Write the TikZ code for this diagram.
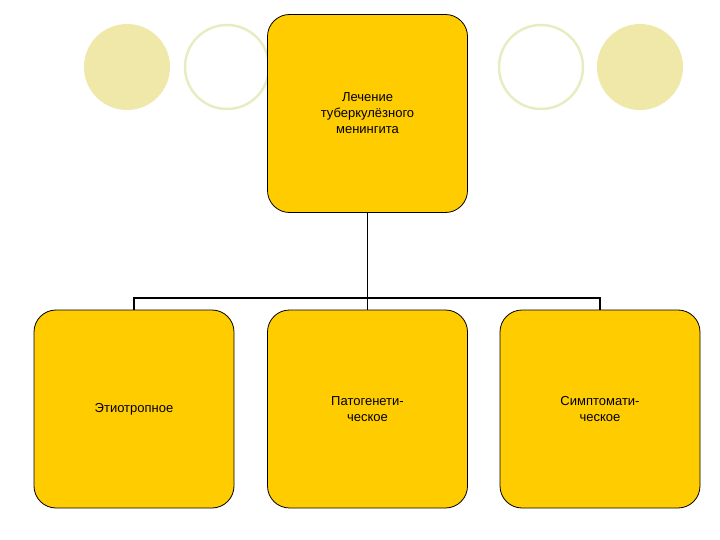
\documentclass[tikz,border=0pt]{standalone}
\usepackage{fontspec}
\setmainfont{Liberation Sans}
\begin{document}
\begin{tikzpicture}[x=1pt,y=-1pt,
  box/.style={draw=black,line width=0.8pt,fill=gyel,rounded corners=22pt,minimum width=200pt,minimum height=198pt,align=center,font=\fontsize{13}{16}\selectfont\bfseries\mdseries},
  link/.style={line width=1.5pt}]
\definecolor{gyel}{HTML}{FFCC00}
\definecolor{cfill}{HTML}{EFE8A8}
\definecolor{cline}{HTML}{E9ECC2}
\useasboundingbox (0,0) rectangle (720,540);
\fill[cfill] (127,67) circle (43);
\draw[cline,line width=2.5pt] (227,67) circle (42);
\draw[cline,line width=2.5pt] (541,67) circle (42);
\fill[cfill] (640,67) circle (43);
\node[box] (top) at (367.5,113.5) {Лечение\\туберкулёзного\\менингита};
\node[box] (a) at (134,409) {Этиотропное};
\node[box] (b) at (367.5,409) {Патогенети-\\ческое};
\node[box] (c) at (600,409) {Симптомати-\\ческое};
\coordinate (j) at (367.5,298);
\draw[link] (top.south) -- (j);
\draw[link] (a.north) |- (j) -| (c.north);
\draw[link] (j) -- (b.north);
\end{tikzpicture}
\end{document}
